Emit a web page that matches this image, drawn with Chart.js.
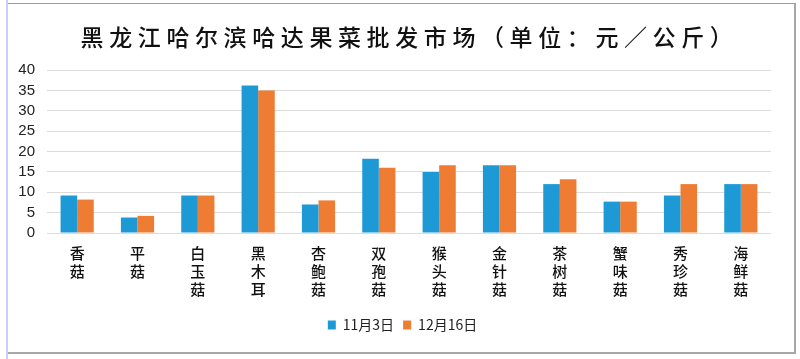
<!DOCTYPE html>
<html>
<head>
<meta charset="utf-8">
<script src="https://cdn.jsdelivr.net/npm/chart.js@4"></script>
<style>
  html,body{margin:0;padding:0;background:#fff;}
  .page{position:absolute;left:6px;top:0;width:788px;height:359px;border-left:2px solid #ccccff;}
  .frame{position:absolute;left:0;top:3px;width:786px;height:348px;border-top:1px solid #9c9c9c;border-right:2px solid #a8a8a8;border-bottom:2px solid #a8a8a8;}
  canvas{display:block;}
</style>
</head>
<body>
<div class="page"><div class="frame"><canvas id="chart" width="786" height="348"></canvas></div></div>
<script>
// data (元/公斤)
const categories = ['香菇','平菇','白玉菇','黑木耳','杏鲍菇','双孢菇','猴头菇','金针菇','茶树菇','蟹味菇','秀珍菇','海鲜菇'];
const seriesNames = ['11月3日','12月16日'];
const nov3 = [9.2,3.8,9.2,36.2,7.0,18.2,15.0,16.6,12.0,7.7,9.2,12.0];
const dec16 = [8.2,4.2,9.2,35.0,8.0,16.0,16.6,16.6,13.2,7.7,12.0,12.0];
const yTicks = [0,5,10,15,20,25,30,35,40];

const blue = '#1d9ad6';
const orange = '#ee7d33';

// nudge a layout box sideways when it is drawn (title gets wider letter spacing too)
function shiftBox(box, dx, spacing){
  if(!box || box._shifted) return;
  const draw = box.draw.bind(box);
  box.draw = function(){
    const c = this.ctx;
    c.save();
    if(spacing) c.letterSpacing = spacing;
    c.translate(dx,0);
    draw();
    c.restore();
  };
  box._shifted = true;
}
const boxShift = {
  id:'boxShift',
  beforeDraw(chart){
    shiftBox(chart.titleBlock, 20, '5.6px');
    shiftBox(chart.legend, 13);
  }
};

const ctx = document.getElementById('chart').getContext('2d');
new Chart(ctx, {
  type:'bar',
  data:{
    labels: categories.map(c=>c.split('')),
    datasets:[
      {label:seriesNames[0], data:nov3, backgroundColor:blue},
      {label:seriesNames[1], data:dec16, backgroundColor:orange}
    ]
  },
  options:{
    responsive:false,
    animation:false,
    layout:{padding:{left:0,right:23,top:0,bottom:10}},
    plugins:{
      title:{
        display:true,
        text:'黑龙江哈尔滨哈达果菜批发市场（单位：元／公斤）',
        color:'#111',
        font:{family:'"Noto Sans CJK SC"',size:23,weight:500,lineHeight:'26px'},
        padding:{top:20,bottom:20}
      },
      legend:{
        position:'bottom',
        labels:{
          boxWidth:8,boxHeight:9,padding:9,color:'#222',
          font:{family:'"Noto Sans CJK SC"',size:14}
        }
      },
      tooltip:{enabled:false}
    },
    datasets:{bar:{categoryPercentage:0.55,barPercentage:1}},
    scales:{
      x:{
        grid:{display:false,drawTicks:false},
        border:{display:false},
        afterFit(axis){ axis.height = 76; },
        ticks:{
          maxRotation:0,autoSkip:false,padding:11,color:'#111',
          font:{family:'"Noto Sans CJK SC"',size:15,weight:500,lineHeight:'18px'}
        }
      },
      y:{
        min:0,max:40,
        afterBuildTicks(axis){ axis.ticks = yTicks.map(v=>({value:v})); },
        afterFit(axis){ axis.width = 39; },
        grid:{color:'#dcdcdc',drawTicks:false},
        border:{display:false},
        ticks:{
          autoSkip:false,padding:12,color:'#222',
          font:{family:'"Liberation Sans", Arial, sans-serif',size:15}
        }
      }
    }
  },
  plugins:[boxShift]
});
</script>
</body>
</html>
